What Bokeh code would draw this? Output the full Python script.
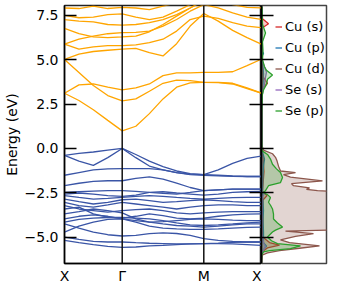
from bokeh.plotting import figure
from bokeh.layouts import row
from bokeh.models import (FixedTicker, CustomJSTickFormatter, LinearAxis, Span,
                          Range1d, Legend, LegendItem)
from bokeh.embed import file_html
from bokeh.resources import INLINE

# ---------------- data ----------------
k_path = [0.0, 0.25, 0.5, 0.75, 1.0, 1.236, 1.471, 1.707, 1.943, 2.178, 2.414,
          2.664, 2.914, 3.164, 3.414]
k_ticks = [0.0, 1.0, 2.414, 3.414]
k_labels = ["X", "Γ", "M", "X"]
k_lines = [1.0, 2.414]

e_ticks = [-5.0, -2.5, 0.0, 2.5, 5.0, 7.5]

cond_1 = [3.11, 2.70, 2.18, 1.58, 0.99, 1.25, 1.96, 2.79, 3.45, 3.69, 3.72, 3.72, 3.67, 3.41, 3.11]
cond_2 = [3.11, 3.58, 3.63, 3.45, 3.30, 3.41, 3.63, 4.10, 4.25, 4.26, 4.28, 4.28, 4.32, 4.66, 5.03]
cond_3 = [5.01, 4.28, 3.54, 2.98, 2.68, 2.79, 3.22, 3.67, 3.85, 3.82, 3.72, 3.71, 3.63, 3.37, 3.11]
cond_4 = [5.01, 5.31, 5.46, 5.53, 5.59, 5.64, 5.40, 5.21, 5.90, 6.89, 7.60, 7.17, 6.65, 6.24, 5.87]
cond_5 = [5.87, 5.59, 5.72, 5.79, 5.79, 5.83, 5.96, 6.15, 6.61, 7.26, 7.45, 7.32, 7.08, 6.89, 6.80]
cond_6 = [5.87, 6.15, 6.33, 6.46, 6.52, 6.54, 6.61, 6.89, 7.26, 7.73, 8.10, 7.91, 7.64, 7.39, 7.26]
cond_7 = [6.76, 6.46, 6.28, 6.24, 6.28, 6.33, 6.57, 6.98, 7.45, 7.91, 8.38, 8.29, 8.10, 7.95, 7.91]
cond_8 = [7.26, 7.17, 7.13, 6.98, 6.94, 6.98, 7.08, 7.26, 7.54, 7.91, 8.29, 8.45, 8.45, 8.45, 8.45]
cond_9 = [7.50, 7.36, 7.39, 7.54, 7.58, 7.39, 7.26, 7.39, 7.73, 8.10, 8.47, 8.50, 8.50, 8.50, 8.50]
cond_10 = [7.91, 7.88, 8.01, 7.88, 7.95, 7.91, 7.82, 8.01, 8.20, 8.50, 8.60, 8.60, 8.60, 8.60, 8.60]

val_1 = [-0.39, -0.28, -0.20, -0.09, 0.00, -0.34, -0.71, -1.02, -1.27, -1.42, -1.47, -1.21, -0.84, -0.56, -0.43]
val_2 = [-0.39, -0.71, -0.95, -0.52, 0.00, -0.52, -0.99, -1.21, -1.36, -1.45, -1.47, -1.51, -1.55, -1.58, -1.58]
val_3 = [-1.51, -1.36, -1.21, -1.15, -1.14, -1.14, -1.14, -1.21, -1.36, -1.47, -1.51, -1.55, -1.57, -1.58, -1.58]
val_4 = [-2.10, -1.96, -1.86, -1.82, -1.82, -1.69, -1.60, -1.73, -1.96, -2.20, -2.38, -2.33, -2.29, -2.29, -2.29]
val_5 = [-2.48, -2.44, -2.40, -2.38, -2.38, -2.42, -2.48, -2.53, -2.57, -2.48, -2.38, -2.33, -2.29, -2.29, -2.29]
val_6 = [-2.57, -2.51, -2.57, -2.66, -2.70, -2.63, -2.48, -2.44, -2.51, -2.57, -2.63, -2.57, -2.48, -2.44, -2.42]
val_7 = [-2.66, -2.76, -2.85, -2.81, -2.76, -2.70, -2.66, -2.70, -2.76, -2.81, -2.85, -2.81, -2.77, -2.76, -2.76]
val_8 = [-2.85, -3.00, -3.13, -3.04, -2.89, -2.85, -2.94, -3.04, -3.00, -2.94, -2.89, -2.94, -3.00, -3.04, -3.04]
val_9 = [-3.04, -3.22, -3.31, -3.18, -3.04, -3.13, -3.22, -3.31, -3.41, -3.31, -3.22, -3.18, -3.18, -3.22, -3.22]
val_10 = [-3.22, -3.41, -3.50, -3.59, -3.50, -3.45, -3.41, -3.50, -3.63, -3.69, -3.63, -3.59, -3.56, -3.56, -3.56]
val_11 = [-3.41, -3.31, -3.69, -3.87, -3.93, -3.82, -3.69, -3.78, -3.93, -3.97, -3.93, -3.82, -3.74, -3.70, -3.69]
val_12 = [-3.69, -3.56, -3.41, -3.50, -3.63, -3.97, -4.15, -4.12, -4.06, -4.00, -3.97, -4.00, -4.04, -4.06, -4.06]
val_13 = [-3.97, -3.82, -3.74, -3.82, -3.97, -4.15, -4.38, -4.49, -4.53, -4.56, -4.56, -4.53, -4.49, -4.45, -4.43]
val_14 = [-4.15, -4.00, -3.93, -3.89, -3.89, -3.93, -3.97, -4.06, -4.19, -4.30, -4.34, -4.30, -4.25, -4.19, -4.15]
val_15 = [-4.71, -4.38, -4.15, -4.00, -3.97, -4.06, -4.15, -4.25, -4.34, -4.38, -4.43, -4.38, -4.30, -4.25, -4.25]
val_16 = [-4.25, -4.49, -4.71, -4.86, -4.93, -4.90, -4.80, -4.75, -4.79, -4.90, -5.08, -5.18, -5.23, -5.27, -5.27]
val_17 = [-4.99, -5.12, -5.23, -5.27, -5.27, -5.31, -5.34, -5.36, -5.38, -5.38, -5.36, -5.33, -5.29, -5.27, -5.27]
val_18 = [-5.18, -5.31, -5.42, -5.51, -5.57, -5.55, -5.49, -5.46, -5.42, -5.38, -5.36, -5.36, -5.38, -5.42, -5.46]

conduction_bands = [cond_1, cond_2, cond_3, cond_4, cond_5, cond_6, cond_7, cond_8, cond_9, cond_10]
valence_bands = [val_1, val_2, val_3, val_4, val_5, val_6, val_7, val_8, val_9, val_10, val_11,
                 val_12, val_13, val_14, val_15, val_16, val_17, val_18]

# projected DOS: energies and values
cu_s_e = [8.0, 7.3, 7.02, 6.8, 5.0, 4.0, 3.67, 3.4, 3.0, 0.0, -0.5, -1.3, -2.4, -2.66, -2.9, -3.5,
          -4.0, -4.6, -5.0, -5.3, -5.45, -5.6, -5.8, -6.0, -6.5]
cu_s_d = [0.5, 1.0, 7.0, 1.0, 0.5, 2.0, 6.0, 1.5, 0.3, 0.3, 1.5, 2.5, 1.0, 5.5, 1.5, 1.0,
          1.5, 1.0, 1.5, 8.0, 18.0, 6.0, 1.0, 0.0, 0.0]

cu_p_e = [8.0, 5.5, 5.35, 5.2, 4.2, 3.6, 3.0, 0.0, -0.3, -0.6, -1.0, -1.5, -2.5, -3.5, -4.0,
          -4.7, -5.3, -5.5, -5.7, -6.0, -6.5]
cu_p_d = [0.3, 0.5, 2.0, 0.5, 2.0, 1.5, 0.3, 0.3, 1.5, 3.0, 2.0, 1.5, 1.0, 2.0, 1.5,
          2.0, 2.0, 5.0, 2.0, 0.0, 0.0]

cu_d_e = [8.0, 4.6, 4.1, 3.6, 3.0, 0.2, -0.1, -0.3, -0.5, -0.7, -1.0, -1.27, -1.36, -1.48, -1.62,
          -1.83, -1.98, -2.1, -2.22, -2.3, -2.38, -2.48, -3.5, -4.56, -4.66, -4.8, -4.95, -5.15,
          -5.3, -5.49, -5.62, -5.75, -5.88, -6.0, -6.5]
cu_d_d = [0.3, 0.5, 1.5, 0.8, 0.3, 0.3, 2.0, 11.0, 14.0, 15.5, 17.0, 19.0, 34.0, 22.0, 29.0,
          61.0, 30.0, 32.0, 48.0, 45.0, 56.0, 95.0, 100.0, 95.0, 24.0, 52.0, 34.0, 19.0,
          28.0, 58.0, 38.0, 18.0, 6.0, 1.0, 0.0]

se_s_e = [8.0, 5.0, 4.6, 4.3, 4.0, 3.6, 3.1, 2.8, 0.0, -2.4, -2.55, -2.7, -4.8, -5.3, -5.55,
          -5.75, -6.0, -6.5]
se_s_d = [0.3, 0.3, 3.0, 5.0, 4.0, 3.0, 1.0, 0.2, 0.2, 0.3, 3.0, 1.0, 0.5, 2.0, 4.0,
          1.5, 0.0, 0.0]

se_p_e = [8.0, 7.0, 6.5, 6.0, 5.5, 5.0, 4.6, 4.4, 4.13, 3.9, 3.6, 3.3, 3.0, 2.0, 0.5, 0.0,
          -0.15, -0.34, -0.6, -0.89, -1.15, -1.36, -1.64, -1.92, -2.1, -2.38, -2.48, -2.6,
          -2.76, -3.03, -3.2, -3.41, -3.7, -3.97, -4.2, -4.43, -4.6, -4.71, -4.99, -5.2,
          -5.36, -5.49, -5.64, -5.75, -5.83, -6.0, -6.5]
se_p_d = [0.5, 1.0, 4.0, 1.0, 1.5, 1.0, 3.0, 5.0, 11.0, 6.0, 5.0, 2.0, 0.8, 0.3, 0.3, 0.5,
          1.0, 6.0, 9.0, 11.0, 15.0, 19.0, 21.0, 19.0, 7.0, 4.0, 1.5, 6.0,
          9.0, 7.0, 9.0, 11.0, 12.0, 12.0, 16.0, 21.0, 14.0, 11.0, 6.0, 10.0,
          16.0, 39.0, 29.0, 8.0, 2.0, 0.3, 0.0]

dos_labels = ["Cu (s)", "Cu (p)", "Cu (d)", "Se (s)", "Se (p)"]
dos_colors = ["#d62728", "#1f77b4", "#8c564b", "#9467bd", "#2ca02c"]
dos_energies = [cu_s_e, cu_p_e, cu_d_e, se_s_e, se_p_e]
dos_values = [cu_s_d, cu_p_d, cu_d_d, se_s_d, se_p_d]

# ---------------- plot ----------------
FONT = "DejaVu Sans"
yr = Range1d(-6.48, 8.05)
blank = CustomJSTickFormatter(code="return '';")

p1 = figure(width=261, height=286, output_backend="svg", toolbar_location=None,
            x_range=Range1d(k_ticks[0], k_ticks[-1]), y_range=yr,
            min_border_left=64, min_border_right=0, min_border_top=5, min_border_bottom=21)
p1.grid.visible = False
p1.outline_line_color = "#222222"
p1.outline_line_width = 1.5

p1.multi_line(xs=[k_path] * len(conduction_bands), ys=conduction_bands,
              line_color="#ffa500", line_width=1.3)
p1.multi_line(xs=[k_path] * len(valence_bands), ys=valence_bands,
              line_color="#3a55a6", line_width=1.3)
for kl in k_lines:
    p1.add_layout(Span(location=kl, dimension="height", line_color="#111111", line_width=1.5))

p1.xaxis.ticker = FixedTicker(ticks=k_ticks)
p1.xaxis.major_label_overrides = {k: lab for k, lab in zip(k_ticks, k_labels)}
p1.xaxis.major_tick_in = 0
p1.xaxis.major_tick_out = 0
p1.xaxis.minor_tick_line_color = None
p1.xaxis.major_label_standoff = 4

p1.yaxis.ticker = FixedTicker(ticks=e_ticks)
p1.yaxis.formatter = CustomJSTickFormatter(code="return tick.toFixed(1).replace('-', '\u2212');")
p1.yaxis.major_tick_in = 12
p1.yaxis.major_tick_out = 0
p1.yaxis.minor_tick_line_color = None
p1.yaxis.major_label_standoff = 6
p1.yaxis.axis_label = "Energy (eV)"
p1.yaxis.axis_label_standoff = 2
p1.yaxis.axis_label_text_font_style = "normal"

for ax in [p1.xaxis[0], p1.yaxis[0]]:
    ax.major_label_text_font = FONT
    ax.major_label_text_font_size = "14px"
    ax.major_label_text_color = "black"
    ax.axis_label_text_font = FONT
    ax.axis_label_text_font_size = "14px"
    ax.axis_label_text_color = "black"
    ax.axis_line_color = "black"
    ax.axis_line_width = 1.5
    ax.major_tick_line_color = "black"
    ax.major_tick_line_width = 1.5

rax = LinearAxis(ticker=FixedTicker(ticks=e_ticks), formatter=blank,
                 major_tick_in=12, major_tick_out=0,
                 minor_tick_line_color=None, major_label_standoff=0,
                 axis_line_color="black", axis_line_width=1.5,
                 major_tick_line_width=1.5, major_tick_line_color="black")
p1.add_layout(rax, "right")

p2 = figure(width=75, height=286, output_backend="svg", toolbar_location=None,
            x_range=Range1d(0, 65), y_range=yr,
            min_border_left=0, min_border_right=10, min_border_top=5, min_border_bottom=21)
p2.grid.visible = False
p2.xaxis.visible = False
p2.outline_line_color = "#444444"
p2.outline_line_width = 1.5
p2.yaxis.ticker = FixedTicker(ticks=e_ticks)
p2.yaxis.formatter = blank
p2.yaxis.major_tick_in = 12
p2.yaxis.major_tick_out = 0
p2.yaxis.minor_tick_line_color = None
p2.yaxis.major_label_standoff = 0
p2.yaxis.axis_line_color = "black"
p2.yaxis.axis_line_width = 1.5
p2.yaxis.major_tick_line_color = "black"
p2.yaxis.major_tick_line_width = 1.5

items = []
for lab, col, es, ds in zip(dos_labels, dos_colors, dos_energies, dos_values):
    p2.harea(y=es, x1=0, x2=ds, fill_color=col, fill_alpha=0.25)
    r = p2.line(x=ds, y=es, line_color=col, line_width=1.3)
    items.append(LegendItem(label=lab, renderers=[r]))

legend = Legend(items=items, location=(14, 145), padding=0, margin=0,
                glyph_width=7, glyph_height=15, label_height=15, spacing=6,
                label_standoff=3, label_text_font=FONT, label_text_font_size="13px",
                label_text_color="black", background_fill_alpha=0, border_line_alpha=0)
p2.add_layout(legend)

layout = row(p1, p2)
open("out.html", "w").write(file_html(layout, INLINE))
